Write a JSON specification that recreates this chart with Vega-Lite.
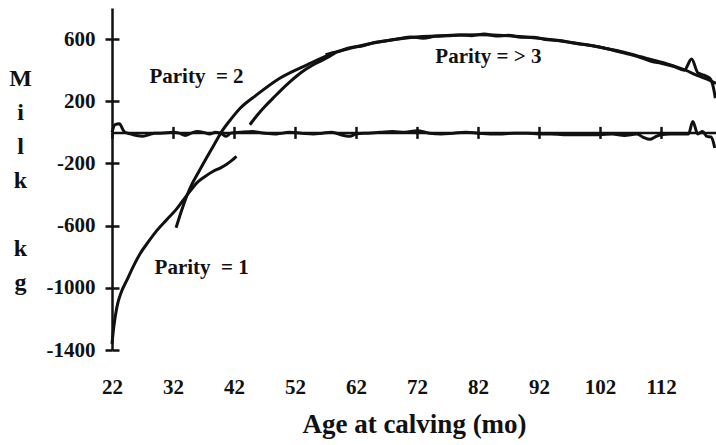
{
  "$schema": "https://vega.github.io/schema/vega-lite/v6.json",
  "width": 604,
  "height": 342,
  "autosize": {"type": "none"},
  "padding": {"left": 112, "top": 8, "right": 0, "bottom": 95},
  "background": "white",
  "config": {
    "view": {"stroke": null},
    "font": "Liberation Serif",
    "axis": {
      "labelFont": "Liberation Serif",
      "titleFont": "Liberation Serif",
      "labelFontWeight": "bold",
      "titleFontWeight": "bold",
      "labelColor": "#111",
      "titleColor": "#111",
      "domainColor": "#111",
      "tickColor": "#111",
      "labelFlush": false,
      "grid": false
    }
  },
  "datasets": {
    "curves": [
      {"series": "fit", "age": 32.5, "milk": -614},
      {"series": "fit", "age": 33.6, "milk": -480},
      {"series": "fit", "age": 34.8, "milk": -358},
      {"series": "fit", "age": 36.2, "milk": -255},
      {"series": "fit", "age": 37.5, "milk": -164},
      {"series": "fit", "age": 38.8, "milk": -75},
      {"series": "fit", "age": 40, "milk": 6},
      {"series": "fit", "age": 41.5, "milk": 85},
      {"series": "fit", "age": 43, "milk": 155},
      {"series": "fit", "age": 45.7, "milk": 241},
      {"series": "fit", "age": 49.5, "milk": 348},
      {"series": "fit", "age": 53.9, "milk": 433},
      {"series": "fit", "age": 58.2, "milk": 508},
      {"series": "fit", "age": 61, "milk": 540},
      {"series": "fit", "age": 64, "milk": 568},
      {"series": "fit", "age": 67, "milk": 590},
      {"series": "fit", "age": 71, "milk": 610},
      {"series": "fit", "age": 76, "milk": 622},
      {"series": "fit", "age": 82, "milk": 628},
      {"series": "fit", "age": 87, "milk": 622},
      {"series": "fit", "age": 92, "milk": 605},
      {"series": "fit", "age": 97, "milk": 580},
      {"series": "fit", "age": 102, "milk": 548},
      {"series": "fit", "age": 107, "milk": 505},
      {"series": "fit", "age": 110, "milk": 472},
      {"series": "fit", "age": 113, "milk": 440},
      {"series": "fit", "age": 116, "milk": 400},
      {"series": "fit", "age": 118, "milk": 365},
      {"series": "fit", "age": 120, "milk": 335},
      {"series": "fit", "age": 121, "milk": 315},

      {"series": "p1", "age": 22, "milk": -1360},
      {"series": "p1", "age": 22.3, "milk": -1250},
      {"series": "p1", "age": 22.8, "milk": -1124},
      {"series": "p1", "age": 23.5, "milk": -1030},
      {"series": "p1", "age": 24.4, "milk": -954},
      {"series": "p1", "age": 25.5, "milk": -862},
      {"series": "p1", "age": 26.6, "milk": -781},
      {"series": "p1", "age": 28, "milk": -702},
      {"series": "p1", "age": 29.3, "milk": -634},
      {"series": "p1", "age": 31, "milk": -560},
      {"series": "p1", "age": 32.6, "milk": -492},
      {"series": "p1", "age": 33.6, "milk": -440},
      {"series": "p1", "age": 34.8, "milk": -378},
      {"series": "p1", "age": 35.9, "milk": -325},
      {"series": "p1", "age": 37.2, "milk": -285},
      {"series": "p1", "age": 38.6, "milk": -250},
      {"series": "p1", "age": 39.8, "milk": -228},
      {"series": "p1", "age": 40.8, "milk": -205},
      {"series": "p1", "age": 41.6, "milk": -182},
      {"series": "p1", "age": 42.4, "milk": -154},

      {"series": "p2", "age": 44.6, "milk": 49},
      {"series": "p2", "age": 45.8, "milk": 110},
      {"series": "p2", "age": 47.1, "milk": 168},
      {"series": "p2", "age": 48.4, "milk": 220},
      {"series": "p2", "age": 49.8, "milk": 275},
      {"series": "p2", "age": 51.2, "milk": 326},
      {"series": "p2", "age": 53, "milk": 385},
      {"series": "p2", "age": 55, "milk": 435},
      {"series": "p2", "age": 56.5, "milk": 465},
      {"series": "p2", "age": 57.7, "milk": 490},
      {"series": "p2", "age": 58.6, "milk": 512},

      {"series": "p3", "age": 57, "milk": 500},
      {"series": "p3", "age": 59, "milk": 520},
      {"series": "p3", "age": 61, "milk": 545},
      {"series": "p3", "age": 63, "milk": 556},
      {"series": "p3", "age": 65, "milk": 578},
      {"series": "p3", "age": 67, "milk": 590},
      {"series": "p3", "age": 69, "milk": 602},
      {"series": "p3", "age": 71, "milk": 614},
      {"series": "p3", "age": 73, "milk": 606},
      {"series": "p3", "age": 75, "milk": 618},
      {"series": "p3", "age": 77, "milk": 621},
      {"series": "p3", "age": 79, "milk": 626},
      {"series": "p3", "age": 81, "milk": 622},
      {"series": "p3", "age": 83, "milk": 632},
      {"series": "p3", "age": 85, "milk": 620},
      {"series": "p3", "age": 87, "milk": 624},
      {"series": "p3", "age": 89, "milk": 612},
      {"series": "p3", "age": 91, "milk": 612},
      {"series": "p3", "age": 93, "milk": 598},
      {"series": "p3", "age": 95, "milk": 592},
      {"series": "p3", "age": 97, "milk": 580},
      {"series": "p3", "age": 99, "milk": 566},
      {"series": "p3", "age": 101, "milk": 556},
      {"series": "p3", "age": 103, "milk": 540},
      {"series": "p3", "age": 105, "milk": 520},
      {"series": "p3", "age": 107, "milk": 500},
      {"series": "p3", "age": 109, "milk": 476},
      {"series": "p3", "age": 110.5, "milk": 455},
      {"series": "p3", "age": 112, "milk": 445},
      {"series": "p3", "age": 114, "milk": 425},
      {"series": "p3", "age": 115.8, "milk": 400},
      {"series": "p3", "age": 117, "milk": 472},
      {"series": "p3", "age": 118, "milk": 385},
      {"series": "p3", "age": 119, "milk": 368},
      {"series": "p3", "age": 120, "milk": 348},
      {"series": "p3", "age": 120.5, "milk": 300},
      {"series": "p3", "age": 120.9, "milk": 220}
    ],
    "resid": [
      {"age": 22, "milk": 0},
      {"age": 22.5, "milk": 50},
      {"age": 23.2, "milk": 55},
      {"age": 24, "milk": 5},
      {"age": 25, "milk": -10},
      {"age": 26, "milk": -20},
      {"age": 27, "milk": -25},
      {"age": 28, "milk": -15},
      {"age": 29, "milk": -5},
      {"age": 30, "milk": -5},
      {"age": 32, "milk": 0},
      {"age": 33, "milk": -5},
      {"age": 34, "milk": -20},
      {"age": 35, "milk": -5},
      {"age": 36, "milk": 5},
      {"age": 37, "milk": 0},
      {"age": 38, "milk": -10},
      {"age": 39, "milk": 0},
      {"age": 40, "milk": -10},
      {"age": 40.7, "milk": -25},
      {"age": 41.5, "milk": -5},
      {"age": 43, "milk": 0},
      {"age": 45, "milk": 5},
      {"age": 47, "milk": -5},
      {"age": 49, "milk": -10},
      {"age": 51, "milk": 0},
      {"age": 53, "milk": -5},
      {"age": 55, "milk": -10},
      {"age": 56.5, "milk": -5},
      {"age": 58, "milk": 0},
      {"age": 60, "milk": -20},
      {"age": 61, "milk": -25},
      {"age": 62, "milk": -10},
      {"age": 64, "milk": -5},
      {"age": 66, "milk": 0},
      {"age": 68, "milk": 5},
      {"age": 70, "milk": 0},
      {"age": 72, "milk": 10},
      {"age": 74, "milk": -5},
      {"age": 76, "milk": -10},
      {"age": 78, "milk": -5},
      {"age": 80, "milk": 0},
      {"age": 82, "milk": -5},
      {"age": 84, "milk": -10},
      {"age": 86, "milk": -10},
      {"age": 88, "milk": -5},
      {"age": 90, "milk": -5},
      {"age": 92, "milk": -10},
      {"age": 94, "milk": -10},
      {"age": 96, "milk": -15},
      {"age": 98, "milk": -15},
      {"age": 100, "milk": -15},
      {"age": 102, "milk": -15},
      {"age": 104, "milk": -10},
      {"age": 106, "milk": -20},
      {"age": 108, "milk": -10},
      {"age": 109, "milk": -30},
      {"age": 110.2, "milk": -45},
      {"age": 111, "milk": -30},
      {"age": 112, "milk": -15},
      {"age": 113.5, "milk": -10},
      {"age": 115, "milk": -10},
      {"age": 116.5, "milk": -10},
      {"age": 117.2, "milk": 70},
      {"age": 118, "milk": -10},
      {"age": 118.8, "milk": 5},
      {"age": 119.5, "milk": -26},
      {"age": 120.2, "milk": -30},
      {"age": 120.8, "milk": -100}
    ],
    "labels": [
      {"age": 35.85, "milk": 358, "label": "Parity\u00a0 = 2"},
      {"age": 36.7, "milk": -870, "label": "Parity\u00a0 = 1"},
      {"age": 83.7, "milk": 486, "label": "Parity = > 3"}
    ]
  },
  "layer": [
    {
      "data": {"name": "curves"},
      "mark": {"type": "line", "interpolate": "monotone", "strokeWidth": 3, "color": "#111"},
      "encoding": {
        "x": {
          "field": "age", "type": "quantitative",
          "scale": {"domain": [22, 121], "nice": false, "zero": false},
          "axis": {
            "orient": "bottom",
            "values": [22, 32, 42, 52, 62, 72, 82, 92, 102, 112],
            "ticks": false, "domain": false,
            "labelFontSize": 21, "labelPadding": 26,
            "title": "Age at calving (mo)", "titleFontSize": 27,
            "titleY": 82, "titleBaseline": "alphabetic"
          }
        },
        "y": {
          "field": "milk", "type": "quantitative",
          "scale": {"domain": [-1400, 800], "nice": false, "zero": false},
          "axis": {
            "orient": "left",
            "values": [-1400, -1000, -600, -200, 200, 600],
            "labelExpr": "'' + datum.value",
            "tickSize": 7, "tickWidth": 2.5, "domainWidth": 2.5,
            "labelPadding": 10, "labelFontSize": 21,
            "title": ["M", "i", "l", "k"],
            "titleAngle": 0, "titleX": -92, "titleY": 77,
            "titleAlign": "center", "titleBaseline": "alphabetic",
            "titleFontSize": 24, "titleLineHeight": 34
          }
        },
        "detail": {"field": "series"}
      }
    },
    {
      "data": {"name": "labels"},
      "mark": {"type": "text", "font": "Liberation Serif", "fontWeight": "bold", "fontSize": 21, "color": "#111", "align": "center", "baseline": "middle"},
      "encoding": {
        "x": {
          "field": "age", "type": "quantitative",
          "scale": {"domain": [22, 121], "nice": false, "zero": false},
          "axis": {
            "orient": "bottom", "offset": -217.6,
            "values": [22, 32, 42, 52, 62, 72, 82, 92, 102, 112],
            "labels": false, "title": null,
            "domain": true, "domainWidth": 2.5,
            "tickSize": 6, "tickWidth": 2.5
          }
        },
        "y": {
          "field": "milk", "type": "quantitative",
          "scale": {"domain": [-1400, 800], "nice": false, "zero": false},
          "axis": {
            "orient": "left",
            "values": [-1400, -1000, -600, -200, 200, 600],
            "labels": false, "domain": false,
            "tickSize": -7, "tickWidth": 2.5,
            "title": ["k", "g"],
            "titleAngle": 0, "titleX": -92, "titleY": 247,
            "titleAlign": "center", "titleBaseline": "alphabetic",
            "titleFontSize": 24, "titleLineHeight": 34
          }
        },
        "text": {"field": "label"}
      }
    },
    {
      "data": {"name": "resid"},
      "mark": {"type": "line", "interpolate": "monotone", "strokeWidth": 3, "color": "#111"},
      "encoding": {
        "x": {
          "field": "age", "type": "quantitative",
          "scale": {"domain": [22, 121], "nice": false, "zero": false},
          "axis": {
            "orient": "bottom", "offset": -217.6,
            "values": [32, 42, 52, 62, 72, 82, 92, 102, 112],
            "labels": false, "title": null, "domain": false,
            "tickSize": -6, "tickWidth": 2.5
          }
        },
        "y": {
          "field": "milk", "type": "quantitative",
          "scale": {"domain": [-1400, 800], "nice": false, "zero": false},
          "axis": null
        }
      }
    }
  ],
  "resolve": {"axis": {"x": "independent", "y": "independent"}}
}
